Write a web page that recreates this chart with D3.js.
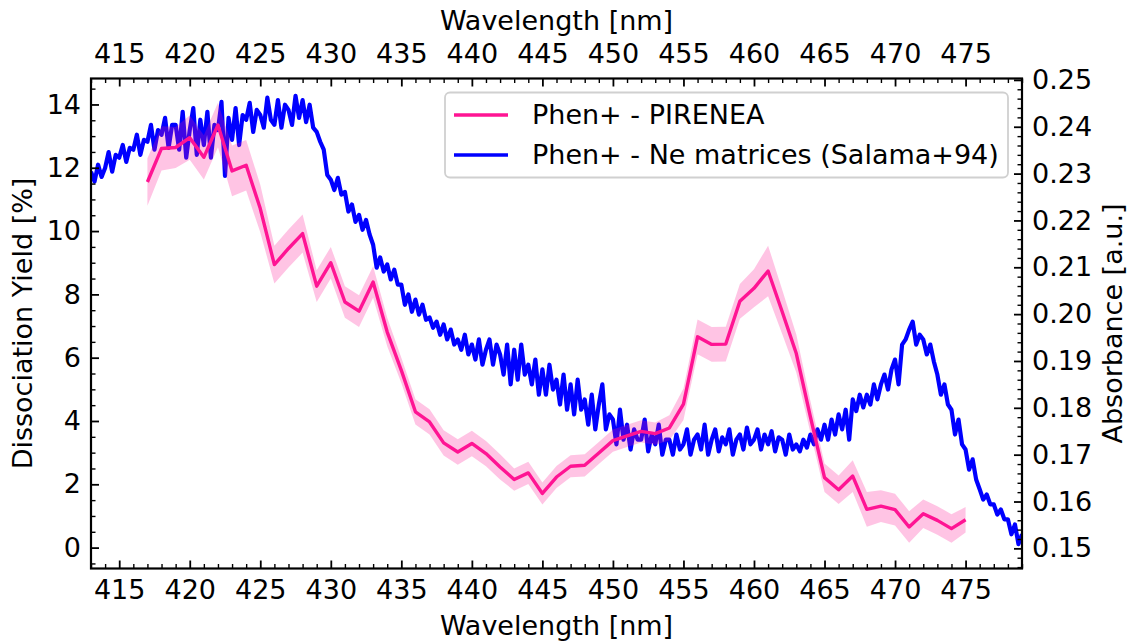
<!DOCTYPE html>
<html><head><meta charset="utf-8">
<script src="https://cdn.jsdelivr.net/npm/d3@7"></script>
<style>body{margin:0;background:#fff}svg text{font-family:"DejaVu Sans";fill:#000}</style>
</head><body>
<svg id="chart" width="1127" height="641"></svg>
<script>
// ---- data ----
const pireneaWavelength = [417,418,419,420,421,422,423,424,425,426,427,428,429,430,431,432,433,434,435,436,437,438,439,440,441,442,443,444,445,446,447,448,449,450,451,452,453,454,455,456,457,458,459,460,461,462,463,464,465,466,467,468,469,470,471,472,473,474,475];
const pireneaYield = [11.55,12.61,12.64,12.95,12.33,13.35,11.9,12.08,10.71,8.94,9.45,9.92,8.26,9.0,7.76,7.47,8.39,6.81,5.6,4.29,3.97,3.31,3.02,3.29,2.97,2.55,2.15,2.36,1.71,2.23,2.57,2.6,2.99,3.38,3.53,3.67,3.6,3.78,4.53,6.66,6.42,6.43,7.78,8.19,8.74,7.45,6.13,4.13,2.21,1.83,2.26,1.21,1.31,1.2,0.65,1.07,0.86,0.6,0.88];
const pireneaError = [0.75,0.7,0.65,0.7,0.7,0.7,0.8,0.8,0.75,0.6,0.6,0.6,0.5,0.5,0.5,0.5,0.5,0.45,0.4,0.4,0.4,0.4,0.4,0.4,0.4,0.4,0.35,0.35,0.35,0.35,0.35,0.35,0.35,0.35,0.35,0.35,0.35,0.4,0.5,0.55,0.55,0.55,0.55,0.6,0.8,0.7,0.6,0.5,0.45,0.45,0.5,0.55,0.5,0.5,0.5,0.45,0.45,0.45,0.4];

const neStartWavelength = 413;
const neStep = 0.25;
const neAbsorbance = [
0.2304,0.2283,0.2319,0.2293, 0.2312,0.2346,0.2304,0.2340, 0.2334,0.2361,0.2325,0.2355, 0.2351,0.2383,0.2340,0.2372,
0.2368,0.2404,0.2351,0.2393, 0.2383,0.2419,0.2355,0.2404, 0.2404,0.2351,0.2432,0.2334, 0.2393,0.2440,0.2340,0.2415,
0.2361,0.2432,0.2334,0.2404, 0.2393,0.2453,0.2295,0.2419, 0.2372,0.2440,0.2361,0.2425, 0.2415,0.2451,0.2389,0.2436,
0.2425,0.2398,0.2462,0.2415, 0.2404,0.2457,0.2398,0.2447, 0.2436,0.2404,0.2466,0.2419, 0.2457,0.2410,0.2447,0.2398,
0.2389,0.2368,0.2351,0.2297, 0.2287,0.2265,0.2291,0.2255, 0.2261,0.2219,0.2234,0.2197, 0.2212,0.2180,0.2201,0.2170,
0.2148,0.2099,0.2121,0.2091, 0.2106,0.2074,0.2095,0.2063, 0.2063,0.2020,0.2042,0.2005, 0.2031,0.1999,0.2020,0.1988,
0.1993,0.1971,0.1984,0.1956, 0.1978,0.1946,0.1967,0.1935, 0.1946,0.1924,0.1956,0.1914, 0.1935,0.1903,0.1946,0.1892,
0.1924,0.1946,0.1892,0.1935, 0.1914,0.1871,0.1935,0.1850, 0.1924,0.1860,0.1935,0.1871, 0.1892,0.1850,0.1903,0.1828,
0.1882,0.1828,0.1892,0.1839, 0.1860,0.1807,0.1871,0.1796, 0.1850,0.1786,0.1860,0.1796, 0.1818,0.1764,0.1828,0.1754,
0.1807,0.1850,0.1754,0.1786, 0.1775,0.1722,0.1796,0.1732, 0.1764,0.1711,0.1754,0.1732, 0.1732,0.1775,0.1707,0.1743,
0.1722,0.1764,0.1700,0.1732, 0.1732,0.1700,0.1743,0.1711, 0.1722,0.1754,0.1700,0.1732, 0.1743,0.1711,0.1764,0.1700,
0.1732,0.1754,0.1707,0.1737, 0.1722,0.1754,0.1700,0.1732, 0.1743,0.1711,0.1758,0.1722, 0.1732,0.1754,0.1711,0.1743,
0.1722,0.1750,0.1707,0.1737, 0.1732,0.1700,0.1743,0.1711, 0.1722,0.1707,0.1732,0.1715, 0.1743,0.1722,0.1754,0.1732,
0.1764,0.1732,0.1775,0.1743, 0.1786,0.1754,0.1796,0.1732, 0.1818,0.1793,0.1828,0.1801, 0.1828,0.1807,0.1850,0.1818,
0.1850,0.1871,0.1839,0.1882, 0.1903,0.1850,0.1935,0.1946, 0.1967,0.1984,0.1935,0.1956, 0.1946,0.1914,0.1935,0.1899,
0.1871,0.1828,0.1850,0.1807, 0.1796,0.1743,0.1775,0.1722, 0.1711,0.1668,0.1690,0.1647, 0.1626,0.1604,0.1615,0.1594,
0.1594,0.1572,0.1583,0.1562, 0.1562,0.1530,0.1551,0.1509, 0.1530];

const xTicks = [415,420,425,430,435,440,445,450,455,460,465,470,475];
const yLeftTicks = [0,2,4,6,8,10,12,14];
const yRightTicks = [0.15,0.16,0.17,0.18,0.19,0.20,0.21,0.22,0.23,0.24,0.25];
const seriesNames = ["Phen+ - PIRENEA","Phen+ - Ne matrices (Salama+94)"];
const seriesColors = ["#ff1493","#0000ff"];

// ---- layout ----
const L = 91, R = 1022, T = 78.5, B = 568.5;
const FS = 27;
const svg = d3.select("#chart");

const x = d3.scaleLinear().domain([413, 479]).range([L, R]);
const yL = d3.scaleLinear().domain([-0.66, 14.82]).range([B, T]);
const yR = d3.scaleLinear().domain([0.1457, 0.2503]).range([B, T]);

svg.append("defs").append("clipPath").attr("id","clip")
  .append("rect").attr("x",L).attr("y",T).attr("width",R-L).attr("height",B-T);

const plot = svg.append("g").attr("clip-path","url(#clip)");

// blue absorbance
const neData = neAbsorbance.map((v,i)=>({w: neStartWavelength + i*neStep, a: v}));
plot.append("path").datum(neData)
  .attr("fill","none").attr("stroke",seriesColors[1]).attr("stroke-width",4.2)
  .attr("stroke-linejoin","round")
  .attr("d", d3.line().x(d=>x(d.w)).y(d=>yR(d.a)));

// pink band + line
const pData = pireneaWavelength.map((w,i)=>({w, v: pireneaYield[i], e: pireneaError[i]}));
plot.append("path").datum(pData)
  .attr("fill",seriesColors[0]).attr("fill-opacity",0.25).attr("stroke","none")
  .attr("d", d3.area().x(d=>x(d.w)).y0(d=>yL(d.v-d.e)).y1(d=>yL(d.v+d.e)));
plot.append("path").datum(pData)
  .attr("fill","none").attr("stroke",seriesColors[0]).attr("stroke-width",3.4)
  .attr("stroke-linejoin","round")
  .attr("d", d3.line().x(d=>x(d.w)).y(d=>yL(d.v)));

// ---- axes ----
function minorRange(a,b,s){const r=[];for(let v=a;v<=b+1e-9;v+=s)r.push(+v.toFixed(4));return r;}
const xMinor = minorRange(413,479,1).filter(v=>!xTicks.includes(v));
const yLMinor = minorRange(-0.5,14.5,0.5).filter(v=>!yLeftTicks.includes(v));
const yRMinor = minorRange(0.146,0.25,0.002).filter(v=>!yRightTicks.some(t=>Math.abs(t-v)<1e-6));

function styleAxis(g){
  g.select(".domain").remove();
  g.selectAll("line").attr("stroke","#000");
  g.selectAll("text").attr("font-family","DejaVu Sans").attr("font-size",FS).attr("fill","#000");
  g.attr("font-family",null).attr("font-size",null);
}
function addAxis(axisFn, scale, transform, major, minor, fmt, pad){
  svg.append("g").attr("transform",transform)
    .call(axisFn(scale).tickValues(minor).tickSize(-4.5).tickFormat(""))
    .call(styleAxis).selectAll("line").attr("stroke-width",1.4);
  svg.append("g").attr("transform",transform)
    .call(axisFn(scale).tickValues(major).tickSize(-8).tickPadding(pad).tickFormat(fmt))
    .call(styleAxis).selectAll("line").attr("stroke-width",1.8);
}
addAxis(d3.axisBottom, x, `translate(0,${B})`, xTicks, xMinor, d3.format("d"), 11);
addAxis(d3.axisTop, x, `translate(0,${T})`, xTicks, xMinor, d3.format("d"), 16);
addAxis(d3.axisLeft, yL, `translate(${L},0)`, yLeftTicks, yLMinor, d3.format("d"), 10);
addAxis(d3.axisRight, yR, `translate(${R},0)`, yRightTicks, yRMinor, d3.format(".2f"), 10);

// frame
svg.append("rect").attr("x",L).attr("y",T).attr("width",R-L).attr("height",B-T)
  .attr("fill","none").attr("stroke","#000").attr("stroke-width",2.2);

// axis labels
svg.append("text").attr("x",(L+R)/2).attr("y",635).attr("text-anchor","middle").attr("font-size",FS).text("Wavelength [nm]");
svg.append("text").attr("x",(L+R)/2).attr("y",30).attr("text-anchor","middle").attr("font-size",FS).text("Wavelength [nm]");
svg.append("text").attr("transform",`translate(32,${(T+B)/2}) rotate(-90)`).attr("text-anchor","middle").attr("font-size",FS).text("Dissociation Yield [%]");
svg.append("text").attr("transform",`translate(1122,${(T+B)/2}) rotate(-90)`).attr("text-anchor","middle").attr("font-size",FS).text("Absorbance [a.u.]");

// legend
const lg = svg.append("g");
lg.append("rect").attr("x",445).attr("y",92.5).attr("width",563).attr("height",85).attr("rx",5)
  .attr("fill","#fff").attr("fill-opacity",0.8).attr("stroke","#d0d0d0").attr("stroke-width",1.8);
seriesNames.forEach((n,i)=>{
  const cy = 115 + i*40;
  lg.append("line").attr("x1",454).attr("x2",508).attr("y1",cy).attr("y2",cy)
    .attr("stroke",seriesColors[i]).attr("stroke-width",3.4);
  lg.append("text").attr("x",532).attr("y",cy).attr("dy","0.35em").attr("font-size",FS).text(n);
});
</script>
</body></html>
